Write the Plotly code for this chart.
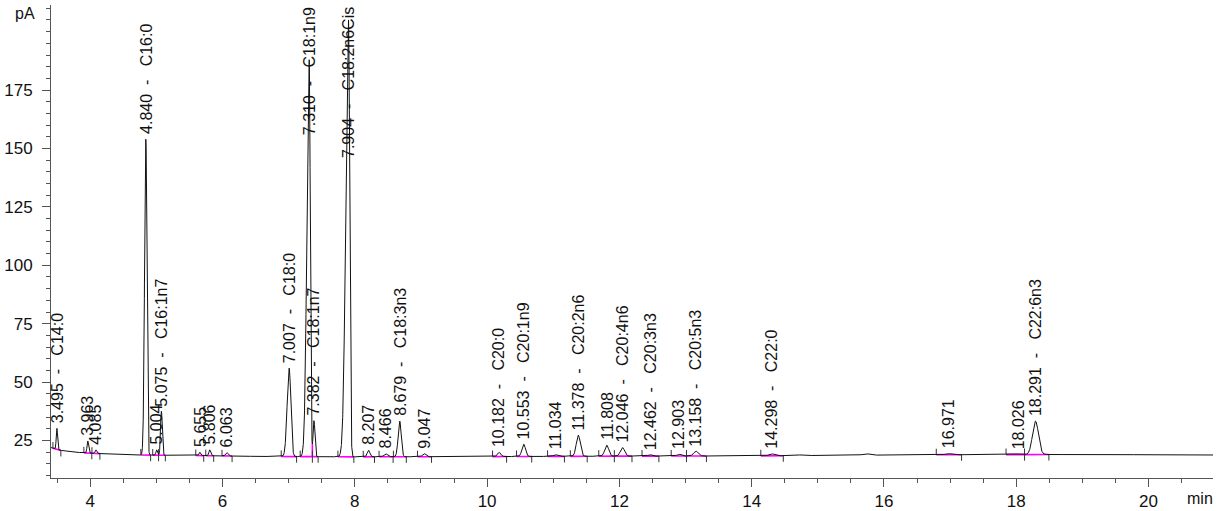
import numpy as np
import plotly.graph_objects as go

# ---------------- data ----------------
peak_rt = [3.495, 3.963, 4.085, 4.840, 5.004, 5.075, 5.655, 5.806, 6.063,
           7.007, 7.310, 7.382, 7.904, 8.207, 8.466, 8.679, 9.047,
           10.182, 10.553, 11.034, 11.378, 11.808, 12.046, 12.462, 12.903,
           13.158, 14.298, 16.971, 18.026, 18.291]
peak_name = ["C14:0", "", "", "C16:0", "", "C16:1n7", "", "", "",
             "C18:0", "C18:1n9", "C18:1n7", "C18:2n6Cis", "", "", "C18:3n3", "",
             "C20:0", "C20:1n9", "", "C20:2n6", "", "C20:4n6", "C20:3n3", "",
             "C20:5n3", "C22:0", "", "", "C22:6n3"]
peak_apex = [30.2, 24.8, 21.0, 154.0, 21.0, 37.5, 20.0, 21.0, 19.8,
             56.0, 188.0, 33.5, 205.0, 20.8, 19.3, 33.3, 19.4,
             19.9, 23.4, 18.9, 27.3, 23.0, 22.0, 18.9, 19.1,
             20.4, 19.3, 19.4, 19.3, 33.3]
sigma_left = [0.010, 0.012, 0.012, 0.019, 0.012, 0.013, 0.012, 0.013, 0.018,
              0.030, 0.034, 0.014, 0.040, 0.020, 0.025, 0.024, 0.025,
              0.025, 0.027, 0.030, 0.030, 0.030, 0.032, 0.030, 0.030,
              0.035, 0.040, 0.045, 0.045, 0.045]
sigma_right = [0.010, 0.012, 0.012, 0.016, 0.012, 0.013, 0.012, 0.013, 0.018,
               0.025, 0.016, 0.014, 0.018, 0.020, 0.025, 0.022, 0.025,
               0.025, 0.027, 0.030, 0.030, 0.030, 0.032, 0.030, 0.030,
               0.035, 0.040, 0.045, 0.045, 0.045]

# baseline drift (pA) read at a few retention times
base_t = [3.41, 3.5, 3.7, 3.9, 4.3, 4.7, 5.5, 6.5, 8.0, 10.0, 12.0, 14.0, 15.5, 17.0, 18.5, 20.0, 20.98]
base_v = [22.0, 21.0, 20.2, 19.7, 19.2, 18.8, 18.6, 18.2, 18.0, 18.1, 18.3, 18.4, 18.7, 18.9, 19.0, 18.9, 18.8]

# small unlabelled bumps
bump_rt = [14.75, 15.73, 19.20, 19.65, 20.30]
bump_h = [0.3, 0.6, 0.3, 0.25, 0.2]

x_tick_vals = [4, 6, 8, 10, 12, 14, 16, 18, 20]
y_tick_vals = [25, 50, 75, 100, 125, 150, 175]

X_RANGE = [3.406, 20.975]
Y_RANGE = [8.95, 211.4]

# ---------------- build signal ----------------
t = np.linspace(X_RANGE[0], X_RANGE[1], 12000)


def baseline(x):
    return np.interp(x, base_t, base_v)


def apeak(x, rt, h, sl, sr):
    x = np.asarray(x, dtype=float)
    s = np.where(x < rt, sl, sr)
    return h * np.exp(-0.5 * ((x - rt) / s) ** 2)


n = len(peak_rt)
heights = [peak_apex[i] - float(baseline(peak_rt[i])) for i in range(n)]
for _ in range(6):
    new = []
    for i in range(n):
        others = sum(float(apeak(peak_rt[i], peak_rt[j], heights[j], sigma_left[j], sigma_right[j]))
                     for j in range(n) if j != i)
        new.append(max(peak_apex[i] - float(baseline(peak_rt[i])) - others, 0.05))
    heights = new


def signal(x):
    x = np.asarray(x, dtype=float)
    yy = baseline(x).astype(float)
    for i in range(n):
        yy = yy + apeak(x, peak_rt[i], heights[i], sigma_left[i], sigma_right[i])
    for rt, h in zip(bump_rt, bump_h):
        yy = yy + h * np.exp(-0.5 * ((x - rt) / 0.05) ** 2)
    return yy


y = signal(t)

# integration events
starts = [peak_rt[i] - max(4.0 * sigma_left[i], 0.06) for i in range(n)]
ends = [peak_rt[i] + max(4.5 * sigma_right[i], 0.06) for i in range(n)]
drops = []
for i in range(n - 1):
    if ends[i] > starts[i + 1]:
        seg = (t > peak_rt[i]) & (t < peak_rt[i + 1])
        if seg.any():
            v = float(t[seg][np.argmin(y[seg])])
        else:
            v = 0.5 * (peak_rt[i] + peak_rt[i + 1])
        ends[i] = v
        starts[i + 1] = v
        drops.append(v)

fig = go.Figure()

# magenta integration baselines
mx, my = [], []
for i in range(n):
    s, e = starts[i], ends[i]
    mx += [s, e, None]
    my += [float(baseline(s)), float(baseline(e)), None]
for d in drops:
    mx += [d, d, None]
    my += [float(baseline(d)), float(signal(d)), None]
fig.add_trace(go.Scatter(x=mx, y=my, mode="lines",
                         line=dict(color="#ff00ff", width=1.6),
                         hoverinfo="skip", showlegend=False))

# start / end ticks
tx, ty = [], []
for i in range(n):
    s, e = starts[i], ends[i]
    vs, ve = float(baseline(s)), float(baseline(e))
    tx += [s, s, None, e, e, None]
    ty += [vs, vs + 2.6, None, ve, ve - 2.6, None]
fig.add_trace(go.Scatter(x=tx, y=ty, mode="lines",
                         line=dict(color="#333333", width=1),
                         hoverinfo="skip", showlegend=False))

# chromatogram
fig.add_trace(go.Scatter(x=t, y=y, mode="lines",
                         line=dict(color="#111111", width=1),
                         hoverinfo="skip", showlegend=False))

FONT = "Liberation Sans, Arial, sans-serif"

# peak labels
for i in range(n):
    txt = f"{peak_rt[i]:.3f}"
    if peak_name[i]:
        txt += "\u00a0 -\u00a0\u00a0 " + peak_name[i]
    if peak_apex[i] > 170:
        fig.add_annotation(x=peak_rt[i], y=1.0, yref="paper", text=txt,
                           textangle=-90, showarrow=False,
                           xanchor="center", yanchor="top",
                           font=dict(size=16, color="#111", family=FONT))
    else:
        fig.add_annotation(x=peak_rt[i], y=peak_apex[i], text=txt,
                           textangle=-90, showarrow=False,
                           xanchor="center", yanchor="bottom", yshift=3,
                           font=dict(size=16, color="#111", family=FONT))

fig.add_annotation(x=-0.022, y=0.982, xref="paper", yref="paper", text="pA",
                   showarrow=False, xanchor="center", yanchor="middle",
                   font=dict(size=16, color="#111", family=FONT))
fig.add_annotation(x=0.9885, y=-0.043, xref="paper", yref="paper", text="min",
                   showarrow=False, xanchor="center", yanchor="middle",
                   font=dict(size=16, color="#111", family=FONT))

axis_col = "#555555"
fig.update_layout(
    width=1224, height=511,
    margin=dict(l=51, r=11, t=5, b=33, autoexpand=False),
    paper_bgcolor="white", plot_bgcolor="white",
    showlegend=False,
    font=dict(family=FONT, color="#111"),
    xaxis=dict(range=X_RANGE, showline=True, linecolor=axis_col, linewidth=1,
               ticks="outside", ticklen=8, tickwidth=1, tickcolor=axis_col,
               tickmode="array", tickvals=x_tick_vals,
               ticktext=[str(v) for v in x_tick_vals],
               minor=dict(dtick=0.5, tick0=0, ticklen=4, ticks="outside",
                          tickcolor=axis_col, showgrid=False),
               showgrid=False, zeroline=False, automargin=False,
               tickfont=dict(size=17, color="#111")),
    yaxis=dict(range=Y_RANGE, showline=True, linecolor=axis_col, linewidth=1,
               ticks="outside", ticklen=8, tickwidth=1, tickcolor=axis_col,
               tickmode="array", tickvals=y_tick_vals,
               ticktext=[str(v) for v in y_tick_vals],
               minor=dict(dtick=5, tick0=0, ticklen=4, ticks="outside",
                          tickcolor=axis_col, showgrid=False),
               showgrid=False, zeroline=False, ticklabelstandoff=6,
               automargin=False,
               tickfont=dict(size=17, color="#111")),
)

fig.write_html("out.html", config={"displayModeBar": False},
               post_script="document.body.style.margin='0';document.body.style.overflow='hidden';")
